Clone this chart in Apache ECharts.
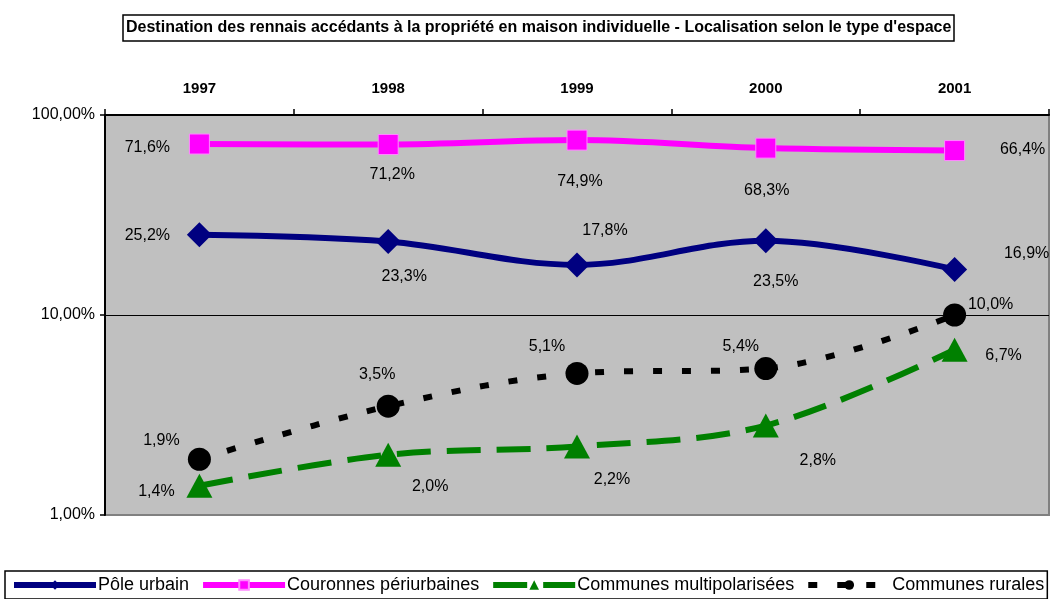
<!DOCTYPE html>
<html>
<head>
<meta charset="utf-8">
<style>
  html, body { margin: 0; padding: 0; background: #ffffff; }
  #chart { width: 1060px; height: 599px; }
</style>
<script src="https://cdn.jsdelivr.net/npm/echarts@6/dist/echarts.min.js"></script>
</head>
<body>
<div id="chart"></div>
<script>
// Years shown along the top axis
const years = ['1997', '1998', '1999', '2000', '2001'];

// Share of Rennes home buyers (individual houses) by destination type, in %
const poleUrbain = [25.2, 23.3, 17.8, 23.5, 16.9];
const couronnesPeriurbaines = [71.6, 71.2, 74.9, 68.3, 66.4];
const communesMultipolarisees = [1.4, 2.0, 2.2, 2.8, 6.7];
const communesRurales = [1.9, 3.5, 5.1, 5.4, 10.0];

// Log-axis tick values (%)
const yTicks = [1, 10, 100];

// Label offsets (px) from each point, per series
const offPole = [[-52, 1], [16, 35], [28, -34], [10, 41], [72, -16]];
const offCour = [[-52, 4], [4, 30], [3, 41], [1, 42], [68, -1]];
const offMulti = [[-43, 6], [42, 32], [35, 33], [52, 35], [49, 6]];
const offRur = [[-38, -19], [-11, -32], [-30, -27], [-25, -22], [36, -10]];

const FONT = 'Arial, "Liberation Sans", sans-serif';
const fmtPct = v => v.toFixed(1).replace('.', ',') + '%';

function points(values, offsets) {
  return values.map((v, i) => ({
    value: v,
    label: { offset: offsets[i] }
  }));
}

function lineSeries(name, values, offsets, color, symbol, size, lineType, extra) {
  return Object.assign({
    name: name,
    type: 'line',
    smooth: 0.35,
    data: points(values, offsets),
    symbol: symbol,
    symbolSize: size,
    showAllSymbol: true,
    lineStyle: { color: color, width: 6, type: lineType, cap: 'butt' },
    itemStyle: { color: color },
    label: {
      show: true,
      position: 'inside',
      formatter: p => fmtPct(p.value),
      color: '#000000',
      fontFamily: FONT,
      fontSize: 16
    },
    emphasis: { disabled: true },
    animation: false
  }, extra || {});
}

const chart = echarts.init(document.getElementById('chart'), null, { renderer: 'canvas' });

chart.setOption({
  backgroundColor: '#ffffff',
  textStyle: { fontFamily: FONT },
  title: {
    text: 'Destination des rennais accédants à la propriété en maison individuelle - Localisation selon le type d\'espace',
    left: 123,
    top: 15,
    padding: [5, 3, 5, 3],
    borderColor: '#000000',
    borderWidth: 1.5,
    textStyle: { fontFamily: FONT, fontSize: 16, fontWeight: 'bold', color: '#000000' }
  },
  legend: {
    left: 5,
    bottom: 0,
    width: 1053,
    padding: [5, 3, 5, 6],
    itemGap: 11,
    itemWidth: 82,
    itemHeight: 12,
    borderColor: '#000000',
    borderWidth: 1.5,
    backgroundColor: '#ffffff',
    lineStyle: { width: 6 },
    textStyle: { fontFamily: FONT, fontSize: 18, color: '#000000', padding: [0, 0, 0, -3] },
    data: ['Pôle urbain', 'Couronnes périurbaines', 'Communes multipolarisées', 'Communes rurales']
  },
  grid: {
    left: 105,
    right: 11,
    top: 115,
    bottom: 84,
    show: true,
    backgroundColor: '#c0c0c0',
    borderColor: '#808080',
    borderWidth: 2
  },
  xAxis: {
    type: 'category',
    position: 'top',
    data: years,
    boundaryGap: true,
    axisLine: { show: true, lineStyle: { color: '#000000', width: 2 } },
    axisTick: { show: true, length: 6, lineStyle: { color: '#000000', width: 1.5 } },
    axisLabel: { margin: 19, fontFamily: FONT, fontSize: 15, fontWeight: 'bold', color: '#000000' },
    splitLine: { show: false }
  },
  yAxis: {
    type: 'log',
    logBase: 10,
    min: yTicks[0],
    max: yTicks[yTicks.length - 1],
    axisLine: { show: true, lineStyle: { color: '#000000', width: 2 } },
    axisTick: { show: true, length: 5, lineStyle: { color: '#000000', width: 1.5 } },
    axisLabel: {
      margin: 10,
      fontFamily: FONT,
      fontSize: 16,
      color: '#000000',
      formatter: v => v.toFixed(2).replace('.', ',') + '%'
    },
    splitLine: { show: true, lineStyle: { color: ['#808080', '#000000', '#000000'], width: 1.2 } },
    minorTick: { show: false },
    minorSplitLine: { show: false }
  },
  series: [
    lineSeries('Pôle urbain', poleUrbain, offPole, '#000080', 'diamond', [25, 25], 'solid'),
    lineSeries('Couronnes périurbaines', couronnesPeriurbaines, offCour, '#ff00ff', 'rect', [20, 20], 'solid',
      { itemStyle: { color: '#ff00ff', borderColor: '#ff88ff', borderWidth: 1 } }),
    lineSeries('Communes multipolarisées', communesMultipolarisees, offMulti, '#008000', 'triangle', [26, 24], [34, 16]),
    lineSeries('Communes rurales', communesRurales, offRur, '#000000', 'circle', [23, 23], [9, 20])
  ]
});
</script>
</body>
</html>
